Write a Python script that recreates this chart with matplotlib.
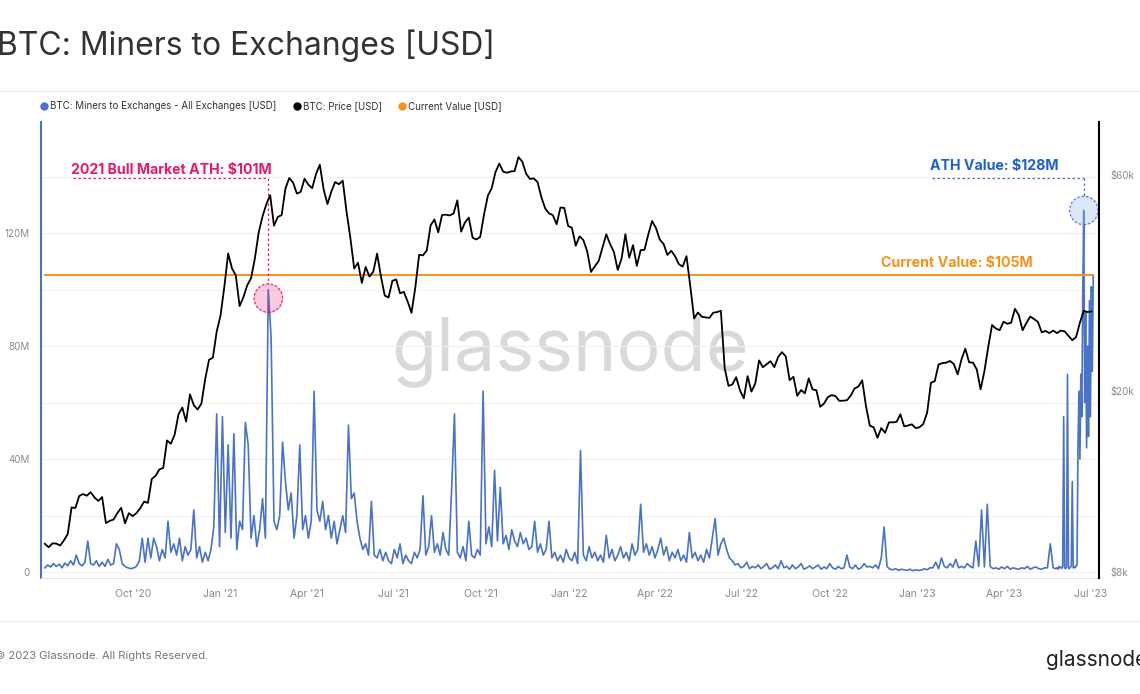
import numpy as np
import pandas as pd
import matplotlib
matplotlib.use("Agg")
import matplotlib.pyplot as plt
import matplotlib.dates as mdates
from matplotlib.lines import Line2D

plt.rcParams["font.family"] = ["Inter", "DejaVu Sans"]

# BTC price [USD], one value every 4 days from 2020-07-01
price_4d = [
    9230, 9070, 9250, 9240, 9150, 9390, 9700, 11100,
    11070, 11760, 11880, 11780, 11990, 11680, 11470, 11700,
    10250, 10370, 10440, 10790, 11080, 10240, 10780,
    10620, 10790, 11060, 11430, 11360, 12820, 13030, 13460,
    13560, 15590, 15330, 16070, 17800, 18420, 17150, 19700,
    18650, 18240, 18800, 21310, 23470, 23730, 27080,
    29370, 33990, 40250, 37320, 36020, 30820, 32260, 34260,
    35510, 39260, 44800, 48570, 51680, 54090, 46340,
    48440, 48880, 55960, 59020, 57640, 54520, 55030, 58800,
    57060, 56050, 60200, 63110, 55700, 51700, 55030,
    57800, 57190, 58230, 49720, 43540, 37280, 38400, 34660,
    37570, 35800, 36700, 40220, 35820, 32510, 32190, 35040,
    35280, 32880, 33120, 31530, 29790, 33860, 39980,
    39860, 40870, 46370, 47830, 44800, 48910, 48990, 48810,
    49280, 52700, 44950, 47110, 48280, 43580, 43210, 43790,
    49110, 53970, 56040, 60860, 63500, 60930, 60620,
    61000, 61130, 65600, 64160, 60360, 58730, 58900, 57810,
    53570, 50580, 49320, 48880, 46680, 50800, 50700, 46310,
    45830, 41870, 43900, 43080, 40680, 36650, 37710,
    38720, 41410, 44360, 42200, 40540, 37030, 39210,
    44360, 39400, 41980, 37800, 40920, 41000, 44350, 47440,
    45810, 43190, 42250, 39940, 40800, 39700, 38120, 37650,
    39700, 34060, 28940, 29830, 29200, 29100, 29030,
    29800, 29900, 30100, 22480, 20560, 20710, 21490, 20100,
    19300, 21600, 19970, 20800, 23400, 22600, 22950, 23300,
    22610, 23810, 24400, 23860, 21170, 21530, 19550,
    20130, 19800, 21360, 20200, 20110, 18490, 18800, 19420,
    19620, 19530, 19060, 19070, 19120, 19570, 20290, 20490,
    21150, 18540, 16800, 16670, 15800, 16600, 16210,
    17090, 17090, 17130, 17800, 16740, 16820, 16920, 16600,
    16670, 16950, 17940, 20880, 21070, 22920, 23080, 23130,
    23330, 22960, 21790, 23520, 24830, 23170, 23140,
    22350, 20200, 22160, 25050, 28000, 27500, 27270,
    28470, 28170, 28330, 30400, 29430, 27260, 28300, 29230,
    28850, 28450, 26980, 27170, 26880, 27220, 26870, 27220,
    27110, 26500, 25920, 26340, 28330, 30100, 29900,
    30000,
]

# Miners to exchanges [USD millions], one value every 3 days from 2020-07-01
flow_3d = [
    1.5, 2.5, 1.8, 3.0, 2.0, 2.8, 1.5, 3.2, 2.2, 4.0,
    2.5, 6.0, 3.0, 2.2, 3.5, 11.0, 3.0, 2.5, 4.0, 2.0,
    3.5, 2.0, 4.5, 2.5, 3.0, 10.0, 8.0, 3.0, 2.0, 1.5,
    1.2, 1.5, 2.0, 4.0, 12.0, 3.5, 12.0, 5.0, 12.0, 9.0,
    4.0, 8.0, 5.0, 18.0, 7.0, 10.0, 6.0, 12.0, 4.0, 9.0,
    6.0, 8.0, 22.0, 5.0, 9.0, 3.5, 7.0, 4.0, 8.0, 16.0,
    56.0, 9.0, 55.0, 14.0, 45.0, 12.0, 49.0, 8.0, 18.0, 15.0,
    53.0, 45.0, 12.0, 20.0, 9.0, 15.0, 26.0, 12.0, 100.0, 83.0,
    18.0, 15.0, 20.0, 46.0, 32.0, 22.0, 28.0, 12.0, 20.0, 45.0,
    15.0, 20.0, 12.0, 18.0, 64.0, 22.0, 18.0, 25.0, 15.0, 20.0,
    12.0, 18.0, 10.0, 15.0, 20.0, 14.0, 52.0, 26.0, 28.0, 18.0,
    12.0, 8.0, 10.0, 6.0, 25.0, 6.0, 5.0, 8.0, 4.0, 7.0,
    4.0, 3.0, 8.0, 5.0, 10.0, 3.0, 6.0, 4.0, 3.0, 7.0,
    5.0, 8.0, 27.0, 6.0, 9.0, 20.0, 7.0, 10.0, 6.0, 14.0,
    8.0, 6.0, 29.0, 56.0, 7.0, 5.0, 9.0, 4.0, 18.0, 6.0,
    5.0, 8.0, 6.0, 64.0, 10.0, 16.0, 9.0, 36.0, 11.0, 30.0,
    10.0, 13.0, 8.0, 15.0, 11.0, 9.0, 14.0, 10.0, 12.0, 8.0,
    9.0, 18.0, 7.0, 10.0, 6.0, 8.0, 18.0, 5.0, 7.0, 4.0,
    6.0, 3.5, 8.0, 5.0, 4.0, 7.0, 3.0, 43.0, 6.0, 4.0,
    9.0, 5.0, 7.0, 4.0, 6.0, 3.5, 13.0, 5.0, 8.0, 4.0,
    6.0, 9.0, 5.0, 7.0, 4.0, 10.0, 6.0, 8.0, 24.0, 7.0,
    10.0, 6.0, 9.0, 5.0, 8.0, 12.0, 6.0, 9.0, 4.0, 7.0,
    5.0, 8.0, 4.0, 6.0, 3.5, 14.0, 5.0, 7.0, 4.0, 6.0,
    3.5, 8.0, 5.0, 12.0, 19.0, 6.0, 10.0, 12.0, 8.0, 5.0,
    4.0, 2.5, 3.0, 1.5, 2.0, 3.5, 1.2, 2.0, 1.5, 2.5,
    1.2, 2.0, 3.0, 1.0, 1.5, 2.5, 1.2, 4.0, 1.5, 2.0,
    1.0, 2.5, 1.2, 1.8, 3.0, 1.0, 1.5, 2.2, 1.2, 1.8,
    2.5, 1.0, 1.8, 1.2, 3.0, 1.5, 1.0, 2.0, 1.2, 1.5,
    6.0, 1.8, 1.2, 2.5, 1.0, 1.5, 3.0, 1.8, 2.0, 1.5,
    2.5, 1.2, 5.0, 16.0, 2.0, 1.0, 0.8, 1.2, 0.6, 1.0,
    0.8, 0.6, 1.0, 0.5, 0.8, 0.6, 0.7, 1.2, 0.8, 1.5,
    1.5, 3.5, 1.2, 5.0, 2.0, 1.5, 3.0, 1.8, 4.5, 1.5,
    2.0, 1.5, 3.0, 2.0, 1.5, 11.0, 2.0, 22.0, 1.8, 24.0,
    2.0, 1.2, 1.5, 1.0, 1.8, 1.2, 2.0, 1.0, 1.5, 1.2,
    1.0, 1.5, 1.2, 2.0, 1.0, 1.5, 1.8, 1.2, 1.0, 1.5,
    1.5, 10.0, 1.5,
]

# daily values for the last weeks (2023-05-26 .. 2023-07-04)
flow_daily = [
    1.2, 1.5, 1.0, 2.0, 1.5, 1.8,
    1.3, 2.0, 55.0, 1.5, 1.2, 1.8, 70.0, 1.5, 1.2, 1.8,
    2.0, 32.0, 1.5, 1.8, 1.5, 2.2, 2.5, 45.0, 64.0, 40.0,
    70.0, 55.0, 99.0, 128.0, 60.0, 92.0, 44.0, 80.0, 48.0, 96.0,
    55.0, 101.0, 71.0, 105.0,
]

current_value = 105
ath_2021_label = "2021 Bull Market ATH: $101M"
ath_label = "ATH Value: $128M"
current_label = "Current Value: $105M"

tick_dates = ["2020-10-01", "2021-01-01", "2021-04-01", "2021-07-01", "2021-10-01",
              "2022-01-01", "2022-04-01", "2022-07-01", "2022-10-01", "2023-01-01",
              "2023-04-01", "2023-07-01"]
tick_labels = ["Oct '20", "Jan '21", "Apr '21", "Jul '21", "Oct '21", "Jan '22",
               "Apr '22", "Jul '22", "Oct '22", "Jan '23", "Apr '23", "Jul '23"]

BLUE = "#4a72c8"
ORANGE = "#f7931a"
PINK = "#e8196e"
BLUE_TXT = "#1f5fd6"
GREY = "#8a8a8a"

price_dates = pd.date_range("2020-07-01", periods=len(price_4d), freq="4D")
d3 = pd.date_range("2020-07-01", periods=len(flow_3d), freq="3D")
dd = pd.date_range(d3[-1] + pd.Timedelta(days=3), periods=len(flow_daily), freq="D")
flow_dates = d3.append(dd)
flow = np.array(flow_3d + flow_daily)

fig = plt.figure(figsize=(11.4, 6.94), dpi=100)
ax = fig.add_axes([41 / 1140, 116 / 694, 1058 / 1140, 456 / 694])
ax2 = ax.twinx()

# watermark
ax.text(0.5, 0.456, "glassnode", transform=ax.transAxes, fontsize=53,
        color="#d9d9d9", ha="center", va="baseline", zorder=0)

ax.plot(flow_dates, flow, color=BLUE, lw=1.2, zorder=2)
ax.plot([flow_dates[0], flow_dates[-1]], [current_value, current_value],
        color=ORANGE, lw=1.4, zorder=3)
ax2.plot(price_dates, price_4d, color="black", lw=1.3)

ax.set_xlim(pd.Timestamp("2020-06-27"), pd.Timestamp("2023-07-10"))
ax.set_ylim(-2.1, 159.3)
ax2.set_yscale("log")
ax2.set_ylim(7760, 78400)

ax.set_xticks(pd.to_datetime(tick_dates))
ax.set_xticklabels(tick_labels)
ax.set_yticks([0, 40, 80, 120])
ax.set_yticklabels(["0", "40M", "80M", "120M"])
ax.set_yticks([20, 60, 100, 140], minor=True)
ax.grid(axis="y", which="both", color="#f0f0f0", lw=0.8)
ax.set_axisbelow(True)
ax.tick_params(axis="y", which="both", length=0, labelsize=7, colors=GREY, pad=8)
ax.tick_params(axis="x", length=0, labelsize=7.5, labelcolor=GREY, pad=8)

ax2.set_yticks([8000, 20000, 60000])
ax2.set_yticklabels(["$8k", "$20k", "$60k"])
ax2.yaxis.set_minor_locator(matplotlib.ticker.NullLocator())
ax2.tick_params(axis="y", length=0, labelsize=7, colors=GREY, pad=8)

for a in (ax, ax2):
    a.spines["top"].set_visible(False)
ax.spines["left"].set_color(BLUE)
ax.spines["left"].set_linewidth(1.5)
ax.spines["right"].set_visible(False)
ax.spines["bottom"].set_color("#e6e6e6")
ax2.spines["left"].set_visible(False)
ax2.spines["bottom"].set_visible(False)
ax2.spines["right"].set_color("black")
ax2.spines["right"].set_linewidth(1.5)

# annotations
i21 = int(np.argmax(np.where(flow_dates.year == 2021, flow, 0)))
iath = int(np.argmax(flow))
x21 = mdates.date2num(flow_dates[i21])
xath = mdates.date2num(flow_dates[iath])
guide_y = 139.5

ax.scatter([x21], [flow[i21] - 3], s=420, facecolor=PINK, alpha=0.22, zorder=4)
ax.scatter([x21], [flow[i21] - 3], s=420, facecolor="none", edgecolor=PINK,
           linestyle=(0, (2, 2)), lw=0.8, zorder=4)
ax.scatter([xath], [flow[iath]], s=420, facecolor="#9dbcf0", alpha=0.35, zorder=4)
ax.scatter([xath], [flow[iath]], s=420, facecolor="none", edgecolor=BLUE,
           linestyle=(0, (2, 2)), lw=0.8, zorder=4)

t21 = ax.annotate(ath_2021_label, xy=(x21, guide_y), xytext=(3, 1),
                  textcoords="offset pixels", ha="right", va="bottom",
                  fontsize=10.2, fontweight="bold", color=PINK, zorder=6)
tath = ax.annotate(ath_label, xy=(xath, guide_y), xytext=(-25, 5),
                   textcoords="offset pixels", ha="right", va="bottom",
                   fontsize=10.2, fontweight="bold", color=BLUE_TXT, zorder=6)
ax.annotate(current_label, xy=(mdates.date2num(flow_dates[-1]), current_value),
            xytext=(-61, 5), textcoords="offset pixels", ha="right", va="bottom",
            fontsize=10.2, fontweight="bold", color=ORANGE, zorder=6)

fig.canvas.draw()
inv = ax.transData.inverted()
x0_21 = inv.transform((t21.get_window_extent().x0 + 2, 0))[0]
x0_ath = inv.transform((tath.get_window_extent().x0 + 2, 0))[0]
dots = (0, (2, 2))
ax.plot([x0_21, x21], [guide_y, guide_y], color=PINK, lw=0.9, ls=dots, zorder=5)
ax.plot([x21, x21], [guide_y, flow[i21] + 2], color=PINK, lw=0.9, ls=dots, zorder=5)
ax.plot([x0_ath, xath], [guide_y, guide_y], color=BLUE, lw=0.9, ls=dots, zorder=5)
ax.plot([xath, xath], [guide_y, flow[iath] + 5], color=BLUE, lw=0.9, ls=dots, zorder=5)

# header / footer
fig.text(-0.003, 1 - 46 / 694, "BTC: Miners to Exchanges [USD]", fontsize=23,
         color="#333333", va="center", ha="left")
fig.add_artist(Line2D([0, 1], [1 - 91 / 694] * 2, color="#eeeeee", lw=1))
fig.add_artist(Line2D([0, 1], [1 - 621 / 694] * 2, color="#eeeeee", lw=1))

handles = [Line2D([], [], marker="o", ls="none", color=c, markersize=5)
           for c in (BLUE, "black", ORANGE)]
labels = ["BTC: Miners to Exchanges - All Exchanges [USD]", "BTC: Price [USD]",
          "Current Value [USD]"]
fig.legend(handles, labels, loc="center left", bbox_to_anchor=(0.027, 1 - 106 / 694),
           ncol=3, frameon=False, fontsize=7, handletextpad=0.1, columnspacing=1.6,
           handlelength=1.0, labelcolor="#333333")

fig.text(-0.004, 1 - 656 / 694, "\u00a9 2023 Glassnode. All Rights Reserved.",
         fontsize=8.1, color="#777777", va="center", ha="left")
fig.text(0.9175, 1 - 666 / 694, "glassnode", fontsize=15, color="#222222",
         va="baseline", ha="left")

fig.savefig("out.png", dpi=100)
